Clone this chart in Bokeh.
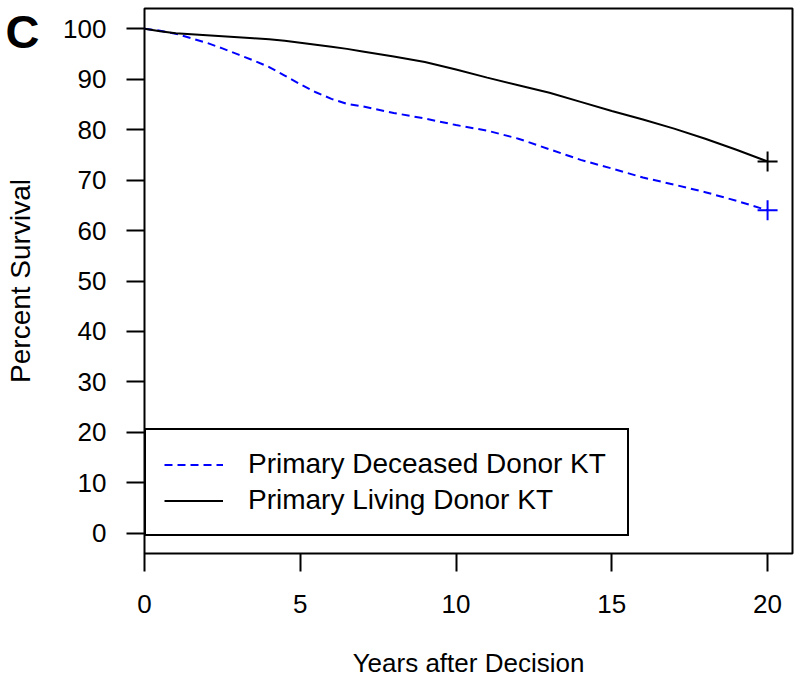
from bokeh.plotting import figure
from bokeh.models import Range1d, FixedTicker, Legend, LegendItem, Title
from bokeh.embed import file_html
from bokeh.resources import INLINE

# ---- data ----
years = [0, 0.5, 1, 1.5, 2, 2.5, 3, 3.5, 4, 4.5, 5, 5.5, 6, 6.5, 7,
         8, 9, 10, 11, 12, 13, 14, 15, 16, 17, 18, 19, 20]
living = [100, 99.5, 99.1, 98.9, 98.7, 98.5, 98.3, 98.1, 97.9, 97.6, 97.2, 96.8, 96.4, 96.0, 95.5,
          94.5, 93.4, 91.9, 90.3, 88.8, 87.3, 85.5, 83.7, 82.0, 80.2, 78.2, 76.0, 73.7]
deceased = [100, 99.6, 99.0, 98.1, 97.2, 96.1, 94.9, 93.7, 92.4, 90.7, 89.0, 87.4, 86.1, 85.1, 84.6,
            83.3, 82.2, 80.9, 79.8, 78.2, 76.1, 74.0, 72.3, 70.5, 69.1, 67.6, 65.9, 64.0]
censor_x = [20]
living_censor = [73.7]
deceased_censor = [64.0]

x_ticks = [0, 5, 10, 15, 20]
y_ticks = [0, 10, 20, 30, 40, 50, 60, 70, 80, 90, 100]

labels = ["Primary Deceased Donor KT", "Primary Living Donor KT"]
x_title = "Years after Decision"
y_title = "Percent Survival"
panel_tag = "C"

FONT = "Liberation Sans"

x0, x1 = 0, 20.8
y0, y1 = -4, 104
FW, FH = 648, 545
MBL, MBR, MBT, MBB = 144, 8, 8, 127

p = figure(frame_width=FW, frame_height=FH,
           min_border_left=MBL, min_border_right=MBR, min_border_top=MBT, min_border_bottom=MBB,
           x_range=Range1d(x0, x1), y_range=Range1d(y0, y1),
           output_backend="svg", toolbar_location=None)

p.xgrid.visible = False
p.ygrid.visible = False
p.outline_line_color = "black"
p.outline_line_width = 2
p.background_fill_color = "white"
p.border_fill_color = "white"

for ax in (p.xaxis[0], p.yaxis[0]):
    ax.axis_line_color = None
    ax.major_tick_in = 0
    ax.major_tick_out = 18
    ax.major_tick_line_width = 2
    ax.major_tick_line_color = "black"
    ax.minor_tick_line_color = None
    ax.major_label_text_font = FONT
    ax.major_label_text_font_size = "26px"
    ax.major_label_text_color = "black"
    ax.axis_label_text_font = FONT
    ax.axis_label_text_font_style = "normal"
    ax.axis_label_text_color = "black"

p.xaxis[0].ticker = FixedTicker(ticks=x_ticks)
p.yaxis[0].ticker = FixedTicker(ticks=y_ticks)
p.xaxis[0].axis_label = x_title
p.yaxis[0].axis_label = y_title
p.xaxis[0].axis_label_text_font_size = "26px"
p.yaxis[0].axis_label_text_font_size = "28px"
p.xaxis[0].major_label_standoff = 23
p.xaxis[0].axis_label_standoff = 32
p.yaxis[0].major_label_standoff = 20
p.yaxis[0].axis_label_standoff = 24
p.yaxis[0].major_label_orientation = "horizontal"

r_dec = p.line(years, deceased, line_color="#0000ff", line_width=2, line_dash="8 5")
r_liv = p.line(years, living, line_color="black", line_width=2)
p.scatter(censor_x, deceased_censor, marker="cross", size=20, line_color="#0000ff", line_width=2)
p.scatter(censor_x, living_censor, marker="cross", size=20, line_color="black", line_width=2)

legend = Legend(items=[LegendItem(label=labels[0], renderers=[r_dec]),
                       LegendItem(label=labels[1], renderers=[r_liv])],
                location=(0, 17), orientation="vertical",
                padding=18, spacing=4, margin=0,
                glyph_width=59, glyph_height=31, label_height=31,
                label_standoff=25, label_width=361,
                label_text_font=FONT, label_text_font_size="28px", label_text_color="black",
                border_line_color="black", border_line_width=2, border_line_alpha=1.0,
                background_fill_color="white", background_fill_alpha=1.0)
p.add_layout(legend)

# panel tag "C": a title in the (thin) top panel, pushed to the canvas's top-left corner
tag = Title(text=panel_tag, align="left", vertical_align="bottom",
            offset=-(MBL - 5), standoff=-99,
            text_font=FONT, text_font_style="bold", text_font_size="47px", text_color="black")
p.add_layout(tag, "above")

open("out.html", "w").write(file_html(p, INLINE))
